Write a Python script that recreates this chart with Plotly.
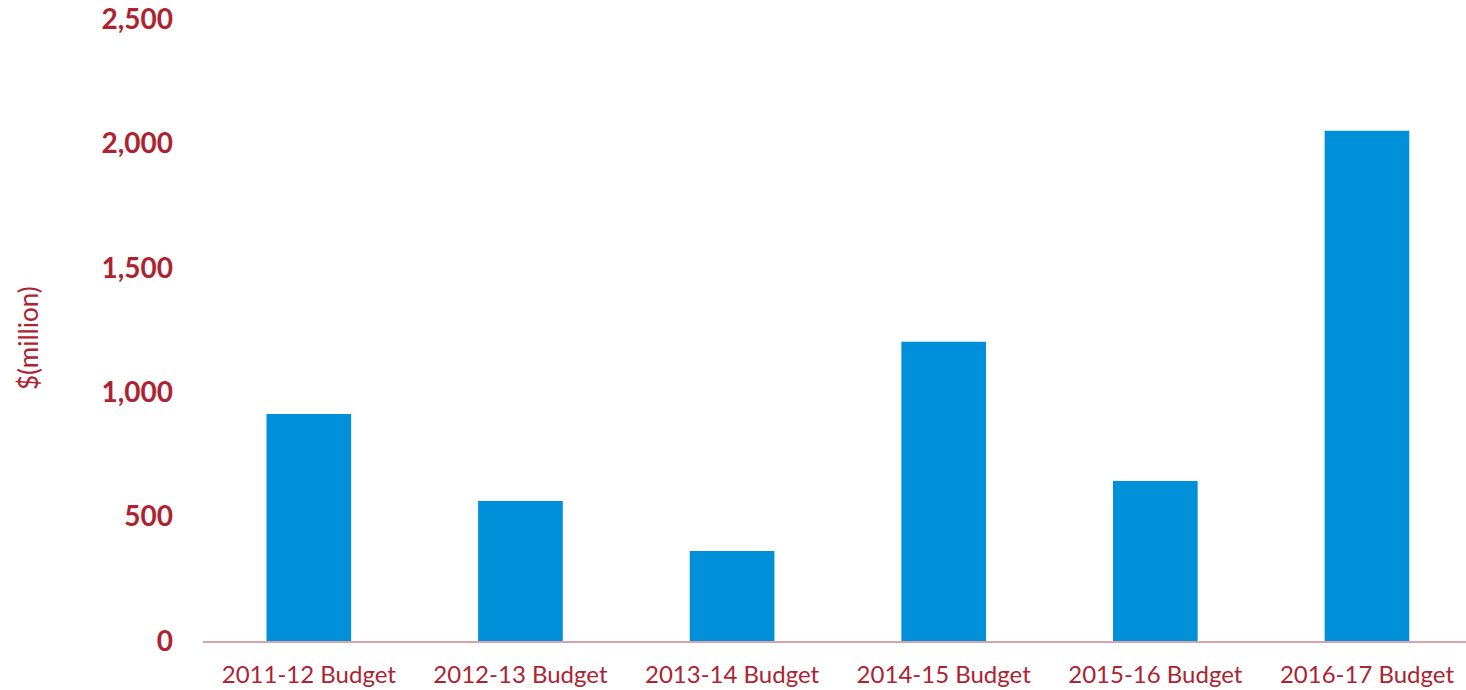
import plotly.graph_objects as go

categories = ["2011-12 Budget", "2012-13 Budget", "2013-14 Budget",
              "2014-15 Budget", "2015-16 Budget", "2016-17 Budget"]
values = [912, 563, 362, 1203, 643, 2051]
y_ticks = [0, 500, 1000, 1500, 2000, 2500]
y_tick_labels = ["0", "500", "1,000", "1,500", "2,000", "2,500"]
y_title = "$(million)"

RED = "#AD2331"
BLUE = "#0090D9"
FONT = "Lato, 'Open Sans', sans-serif"

fig = go.Figure(go.Bar(x=categories, y=values, marker=dict(color=BLUE, line=dict(width=0)),
                       width=0.4))

fig.update_layout(
    width=1466, height=690,
    margin=dict(l=203, r=0, t=19, b=49),
    paper_bgcolor="white", plot_bgcolor="white",
    showlegend=False,
    font=dict(family=FONT, color=RED),
)
fig.update_xaxes(
    range=[-0.5, 5.468],
    showgrid=False, showline=True, linecolor="#D9A3A7", linewidth=1.5,
    tickfont=dict(size=24, color=RED, family=FONT),
    ticks="", ticklabelstandoff=11,
)
fig.update_yaxes(
    range=[0, 2500], tickvals=y_ticks, ticktext=y_tick_labels,
    showgrid=False, zeroline=False, showline=False,
    tickfont=dict(size=28, color=RED, family=FONT, weight="bold"),
    ticklabelstandoff=29, ticklabeloverflow="allow",
)
fig.add_annotation(
    text=y_title, textangle=-90, xref="paper", yref="paper", x=0, y=0.5,
    xanchor="center", yanchor="middle", xshift=-175, yshift=-8,
    showarrow=False, font=dict(size=26, color=RED, family=FONT),
)

fig.write_html("out.html", config={"displayModeBar": False},
               post_script="document.body.style.margin='0';")
